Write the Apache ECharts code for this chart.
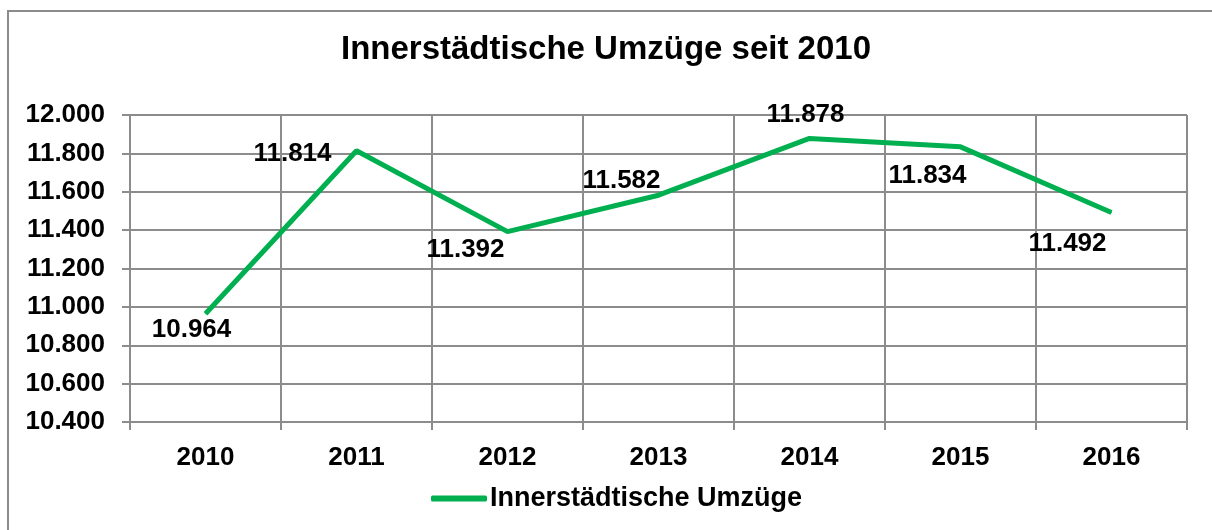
<!DOCTYPE html>
<html>
<head>
<meta charset="utf-8">
<script src="https://cdn.jsdelivr.net/npm/echarts@6/dist/echarts.min.js"></script>
<style>
html, body { margin:0; padding:0; background:#fff; }
#box { position:absolute; left:7px; top:10px; width:1220px; height:540px; border:2px solid #8c8c8c; box-sizing:border-box; }
#container { width:1212px; height:530px; position:absolute; left:0; top:0; }
</style>
</head>
<body>
<div id="box"></div>
<div id="container"></div>
<script type="text/javascript">
var years = ['2010', '2011', '2012', '2013', '2014', '2015', '2016'];
var umzuege = [10964, 11814, 11392, 11582, 11878, 11834, 11492];
var yTicks = { min: 10400, max: 12000, step: 200 };
// label offsets from the point, as in the picture
var labelShift = [[-14, 16], [-64, 3], [-42, 18], [-37, -14], [-4, -24], [-33, 29], [-44, 31]];

function fmt(v) {
	return String(v).replace(/\B(?=(\d{3})+(?!\d))/g, '.');
}

var font = 'Liberation Sans, Arial, sans-serif';
var myChart = echarts.init(document.getElementById('container'));
var option = {
	animation: false,
	title: {
		text: 'Innerstädtische Umzüge seit 2010',
		left: 'center',
		top: 28,
		textStyle: { fontFamily: font, fontSize: 33, fontWeight: 'bold', color: '#000' }
	},
	legend: {
		bottom: 13,
		left: 426,
		itemWidth: 56,
		itemHeight: 6,
		icon: 'roundRect',
		textStyle: { fontFamily: font, fontSize: 27, fontWeight: 'bold', color: '#000', padding: [0, 0, 0, -2] },
		data: ['Innerstädtische Umzüge']
	},
	grid: { left: 130, right: 25, top: 115, height: 307 },
	xAxis: {
		type: 'category',
		boundaryGap: true,
		data: years,
		axisLine: { lineStyle: { color: '#8c8c8c', width: 2 } },
		axisTick: { show: true, length: 8, lineStyle: { color: '#8c8c8c', width: 2 } },
		splitLine: { show: true, lineStyle: { color: '#8c8c8c', width: 2 } },
		axisLabel: { fontFamily: font, fontSize: 26, fontWeight: 'bold', color: '#000', margin: 23 }
	},
	yAxis: {
		type: 'value',
		min: yTicks.min,
		max: yTicks.max,
		interval: yTicks.step,
		axisLine: { show: true, lineStyle: { color: '#8c8c8c', width: 2 } },
		axisTick: { show: true, length: 8, lineStyle: { color: '#8c8c8c', width: 2 } },
		splitLine: { show: true, lineStyle: { color: '#8c8c8c', width: 2 } },
		axisLabel: { fontFamily: font, fontSize: 26, fontWeight: 'bold', color: '#000', margin: 25, formatter: fmt }
	},
	series: [
		{
			name: 'Innerstädtische Umzüge',
			type: 'line',
			symbol: 'circle',
			symbolSize: 1,
			lineStyle: { color: '#00b050', width: 5 },
			itemStyle: { color: '#00b050' },
			data: umzuege.map(function (v, i) {
				return {
					value: v,
					label: {
						show: true,
						position: 'inside',
						offset: labelShift[i],
						formatter: function (p) { return fmt(p.value); },
						fontFamily: font, fontSize: 26, fontWeight: 'bold', color: '#000'
					}
				};
			})
		}
	]
};
myChart.setOption(option);
</script>
</body>
</html>
